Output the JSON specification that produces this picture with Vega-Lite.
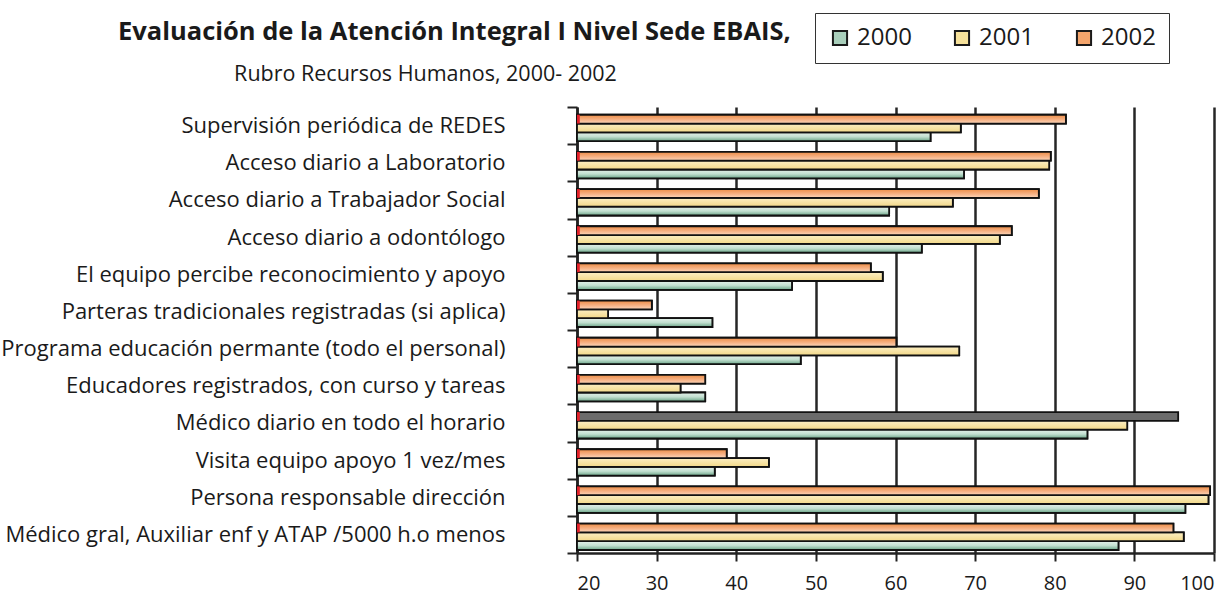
{
  "$schema": "https://vega.github.io/schema/vega-lite/v6.json",
  "width": 637,
  "height": 446,
  "autosize": {"type": "none"},
  "padding": {"left": 577, "top": 107, "right": 13, "bottom": 48},
  "background": "white",
  "title": {
    "text": "Evaluación de la Atención Integral I Nivel Sede EBAIS,",
    "anchor": "start",
    "frame": "group",
    "dx": -459,
    "dy": 53,
    "offset": 0,
    "baseline": "alphabetic",
    "font": "Open Sans",
    "fontSize": 25.5,
    "fontWeight": "bold",
    "color": "#1a1a1a"
  },
  "config": {
    "view": {"stroke": null},
    "font": "Open Sans"
  },
  "data": {
    "values": [
      {"item": "Supervisión periódica de REDES", "year": "2000", "value": 64.4},
      {"item": "Supervisión periódica de REDES", "year": "2001", "value": 68.2},
      {"item": "Supervisión periódica de REDES", "year": "2002", "value": 81.4},
      {"item": "Acceso diario a Laboratorio", "year": "2000", "value": 68.6},
      {"item": "Acceso diario a Laboratorio", "year": "2001", "value": 79.3},
      {"item": "Acceso diario a Laboratorio", "year": "2002", "value": 79.5},
      {"item": "Acceso diario a Trabajador Social", "year": "2000", "value": 59.2},
      {"item": "Acceso diario a Trabajador Social", "year": "2001", "value": 67.2},
      {"item": "Acceso diario a Trabajador Social", "year": "2002", "value": 78.0},
      {"item": "Acceso diario a odontólogo", "year": "2000", "value": 63.3},
      {"item": "Acceso diario a odontólogo", "year": "2001", "value": 73.1},
      {"item": "Acceso diario a odontólogo", "year": "2002", "value": 74.6},
      {"item": "El equipo percibe reconocimiento y apoyo", "year": "2000", "value": 47.0},
      {"item": "El equipo percibe reconocimiento y apoyo", "year": "2001", "value": 58.4},
      {"item": "El equipo percibe reconocimiento y apoyo", "year": "2002", "value": 56.9},
      {"item": "Parteras tradicionales registradas (si aplica)", "year": "2000", "value": 37.0},
      {"item": "Parteras tradicionales registradas (si aplica)", "year": "2001", "value": 23.9},
      {"item": "Parteras tradicionales registradas (si aplica)", "year": "2002", "value": 29.4},
      {"item": "Programa educación permante (todo el personal)", "year": "2000", "value": 48.1},
      {"item": "Programa educación permante (todo el personal)", "year": "2001", "value": 68.0},
      {"item": "Programa educación permante (todo el personal)", "year": "2002", "value": 60.1},
      {"item": "Educadores registrados, con curso y tareas", "year": "2000", "value": 36.1},
      {"item": "Educadores registrados, con curso y tareas", "year": "2001", "value": 33.0},
      {"item": "Educadores registrados, con curso y tareas", "year": "2002", "value": 36.1},
      {"item": "Médico diario en todo el horario", "year": "2000", "value": 84.1},
      {"item": "Médico diario en todo el horario", "year": "2001", "value": 89.1},
      {"item": "Médico diario en todo el horario", "year": "2002", "value": 95.5},
      {"item": "Visita equipo apoyo 1 vez/mes", "year": "2000", "value": 37.3},
      {"item": "Visita equipo apoyo 1 vez/mes", "year": "2001", "value": 44.1},
      {"item": "Visita equipo apoyo 1 vez/mes", "year": "2002", "value": 38.8},
      {"item": "Persona responsable dirección", "year": "2000", "value": 96.4},
      {"item": "Persona responsable dirección", "year": "2001", "value": 99.3},
      {"item": "Persona responsable dirección", "year": "2002", "value": 99.5},
      {"item": "Médico gral, Auxiliar enf y ATAP /5000 h.o menos", "year": "2000", "value": 88.0},
      {"item": "Médico gral, Auxiliar enf y ATAP /5000 h.o menos", "year": "2001", "value": 96.2},
      {"item": "Médico gral, Auxiliar enf y ATAP /5000 h.o menos", "year": "2002", "value": 94.9}
    ]
  },
  "encoding": {
    "y": {
      "field": "item",
      "type": "nominal",
      "sort": null,
      "scale": {"paddingInner": 0, "paddingOuter": 0},
      "axis": {
        "title": "Rubro Recursos Humanos, 2000- 2002",
        "titleAngle": 0,
        "titleX": -152,
        "titleY": -27,
        "titleAlign": "center",
        "titleBaseline": "alphabetic",
        "titleFontSize": 21.5,
        "titleFontWeight": "normal",
        "titleColor": "#1a1a1a",
        "titleFont": "Open Sans",
        "tickBand": "extent",
        "tickSize": 10,
        "tickWidth": 2,
        "tickColor": "#222222",
        "domainColor": "#222222",
        "domainWidth": 2.5,
        "labelFontSize": 22,
        "labelColor": "#1a1a1a",
        "labelPadding": 62,
        "labelLimit": 600,
        "grid": false
      }
    },
    "yOffset": {
      "field": "year",
      "type": "nominal",
      "sort": ["2002", "2001", "2000"],
      "scale": {"paddingInner": 0, "paddingOuter": 0.61, "align": 0.72}
    },
    "x": {
      "field": "value",
      "type": "quantitative",
      "scale": {"domain": [20, 100], "nice": false, "zero": false},
      "axis": {
        "title": null,
        "values": [20, 30, 40, 50, 60, 70, 80, 90, 100],
        "grid": true,
        "gridColor": "#262626",
        "gridWidth": 2.5,
        "gridOpacity": 1,
        "tickSize": 8,
        "tickWidth": 2,
        "tickColor": "#222222",
        "domainColor": "#222222",
        "domainWidth": 2.5,
        "labelFontSize": 20,
        "labelColor": "#1a1a1a",
        "labelPadding": 12
      }
    },
    "x2": {"datum": 20}
  },
  "layer": [
    {
      "mark": {"type": "bar", "stroke": "#111111", "strokeWidth": 1.8},
      "encoding": {
        "color": {
          "condition": {
            "test": "datum.item === 'Médico diario en todo el horario' && datum.year === '2002'",
            "value": "#6b6b6b"
          },
          "field": "year",
          "type": "nominal",
          "scale": {
            "domain": ["2000", "2001", "2002"],
            "range": ["#a9cfbb", "#f6e19a", "#f4a56c"]
          },
          "legend": {
            "title": null,
            "orient": "none",
            "legendX": 238,
            "legendY": -94,
            "direction": "horizontal",
            "strokeColor": "#333333",
            "fillColor": "white",
            "padding": 13,
            "symbolType": "square",
            "symbolSize": 200,
            "symbolStrokeColor": "#1a1a1a",
            "symbolStrokeWidth": 2,
            "symbolOpacity": 1,
            "labelFontSize": 24,
            "labelColor": "#1a1a1a",
            "labelOffset": 5,
            "columnPadding": 38
          }
        }
      }
    },
    {
      "transform": [{"filter": "datum.year === '2000'"}],
      "mark": {"type": "bar", "stroke": "#111111", "strokeWidth": 1.8,
        "fill": {"gradient": "linear", "x1": 0, "y1": 0, "x2": 0, "y2": 1, "stops": [{"offset": 0, "color": "#e4f0ea"}, {"offset": 0.5, "color": "#c2dfd0"}, {"offset": 1, "color": "#6aa487"}]}},
      "encoding": {}
    },
    {
      "transform": [{"filter": "datum.year === '2001'"}],
      "mark": {"type": "bar", "stroke": "#111111", "strokeWidth": 1.8,
        "fill": {"gradient": "linear", "x1": 0, "y1": 0, "x2": 0, "y2": 1, "stops": [{"offset": 0, "color": "#fcefc4"}, {"offset": 1, "color": "#f2d888"}]}},
      "encoding": {}
    },
    {
      "transform": [{"filter": "datum.year === '2002' && datum.item !== 'Médico diario en todo el horario'"}],
      "mark": {"type": "bar", "stroke": "#111111", "strokeWidth": 1.8,
        "fill": {"gradient": "linear", "x1": 0, "y1": 0, "x2": 0, "y2": 1, "stops": [{"offset": 0, "color": "#ec8c45"}, {"offset": 0.55, "color": "#f6b184"}, {"offset": 1, "color": "#fbd6bb"}]}},
      "encoding": {}
    },
    {
      "transform": [{"filter": "datum.year === '2002'"}],
      "mark": {"type": "bar", "color": "#e3222b"},
      "encoding": {
        "x": {"datum": 20, "type": "quantitative"},
        "x2": {"datum": 20.35}
      }
    }
  ]
}
